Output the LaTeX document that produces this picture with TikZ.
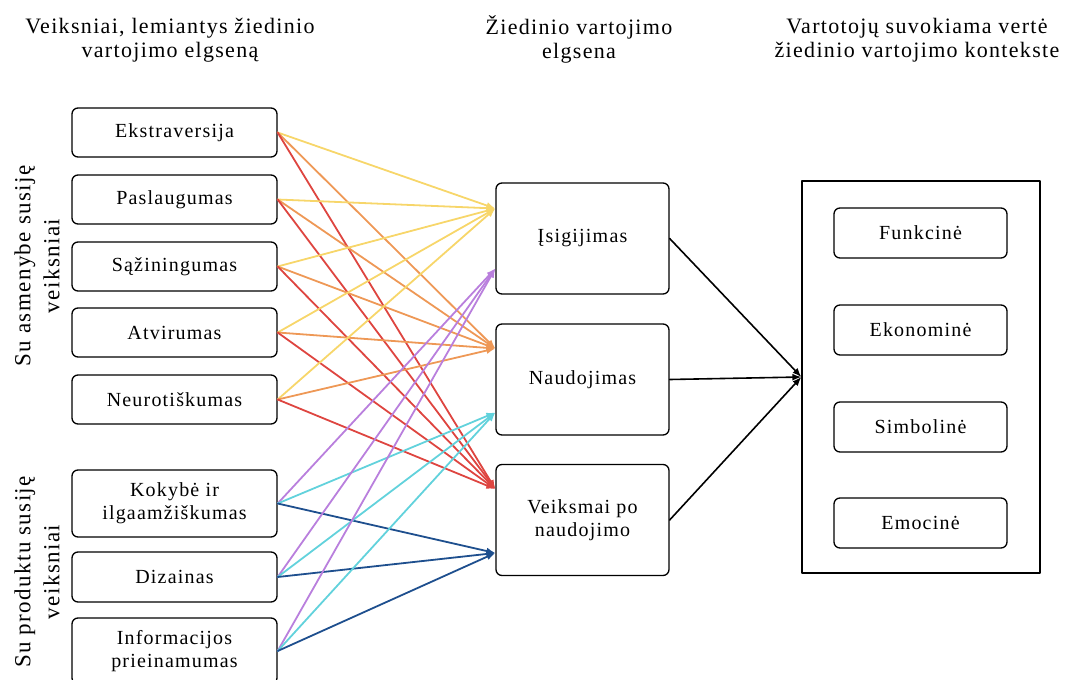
\documentclass[tikz,border=0pt]{standalone}
\usepackage{fontspec}
\setmainfont[LetterSpace=6]{Liberation Serif}
\usepackage{tikz}
\usetikzlibrary{arrows,arrows.meta}
\definecolor{lnYellow}{HTML}{F7D66A}
\definecolor{lnOrange}{HTML}{EE9856}
\definecolor{lnRed}{HTML}{DE4540}
\definecolor{lnPurple}{HTML}{B97FDD}
\definecolor{lnCyan}{HTML}{62D2DC}
\definecolor{lnBlue}{HTML}{1E4F8E}

\begin{document}
\begin{tikzpicture}[line cap=round,line join=round,>={Latex[length=9pt,width=7pt]},x=1pt,y=-1pt,
  every node/.style={font=\fontsize{20}{23}\selectfont},
  heading/.style={align=center,font=\fontsize{22}{24}\selectfont},
  group/.style={rotate=90,align=center,font=\fontsize{23}{29}\selectfont},
  factor/.style={draw,line width=1.3pt,rounded corners=6pt,fill=white,align=center,inner sep=0pt,minimum width=205,minimum height=49},
  stage/.style={draw,line width=1.3pt,rounded corners=6pt,fill=white,align=center,inner sep=0pt,minimum width=173,minimum height=111},
  value/.style={draw,line width=1.3pt,rounded corners=6pt,fill=white,align=center,inner sep=0pt,minimum width=173,minimum height=50},
  ln/.style={->,line width=1.8pt}]
\clip (0,0) rectangle (1071,680);

% antrastes
\draw (170,40) node[heading] (headL) {Veiksniai, lemiantys žiedinio\\vartojimo elgseną};
\draw (579,39) node[heading] (headM) {Žiedinio vartojimo\\elgsena};
\draw (917,40) node[heading] (headR) {Vartotojų suvokiama vertė\\žiedinio vartojimo kontekste};
\draw (37,266) node[group] (grpAsm) {Su asmenybe susiję\\veiksniai};
\draw (37,572) node[group] (grpProd) {Su produktu susiję\\veiksniai};

% veiksniai
\draw (174.5,132.5) node[factor] (ekstr) {Ekstraversija};
\draw (174.5,199.5) node[factor] (pasl) {Paslaugumas};
\draw (174.5,266.5) node[factor] (sazin) {Sąžiningumas};
\draw (174.5,332.5) node[factor] (atvir) {Atvirumas};
\draw (174.5,399.5) node[factor] (neuro) {Neurotiškumas};
\draw (174.5,503.5) node[factor,minimum height=67] (kokyb) {Kokybė ir\\ilgaamžiškumas};
\draw (174.5,577) node[factor,minimum height=50] (dizain) {Dizainas};
\draw (174.5,651) node[factor,minimum height=66] (inform) {Informacijos\\prieinamumas};

% elgsena
\draw (582.5,238.5) node[stage] (isig) {Įsigijimas};
\draw (582.5,379.5) node[stage] (naud) {Naudojimas};
\draw (582.5,520) node[stage] (veik) {Veiksmai po\\naudojimo};

% verte
\draw (921,377) node[draw,line width=1.3pt,minimum width=238,minimum height=392] (vert) {};
\draw (920.5,233) node[value] (funk) {Funkcinė};
\draw (920.5,330) node[value] (ekon) {Ekonominė};
\draw (920.5,427) node[value] (simb) {Simbolinė};
\draw (920.5,523) node[value] (emoc) {Emocinė};

\coordinate (isigA) at ([yshift=30pt]isig.west);
\coordinate (isigB) at ([yshift=-30pt]isig.west);
\coordinate (naudA) at ([yshift=31pt]naud.west);
\coordinate (naudB) at ([yshift=-33pt]naud.west);
\coordinate (veikA) at ([yshift=31pt]veik.west);
\coordinate (veikB) at ([yshift=-33pt]veik.west);

\foreach \f in {ekstr,pasl,sazin,atvir,neuro}
  \path (\f.east) edge[ln,lnYellow] (isigA) edge[ln,lnOrange] (naudA) edge[ln,lnRed] (veikA);
\foreach \f in {kokyb,dizain,inform}
  \path (\f.east) edge[ln,lnPurple] (isigB) edge[ln,lnCyan] (naudB) edge[ln,lnBlue] (veikB);

\foreach \s in {isig,naud,veik}
  \draw[->,line width=1.6pt] (\s.east) -- (vert.west);
\end{tikzpicture}
\end{document}
